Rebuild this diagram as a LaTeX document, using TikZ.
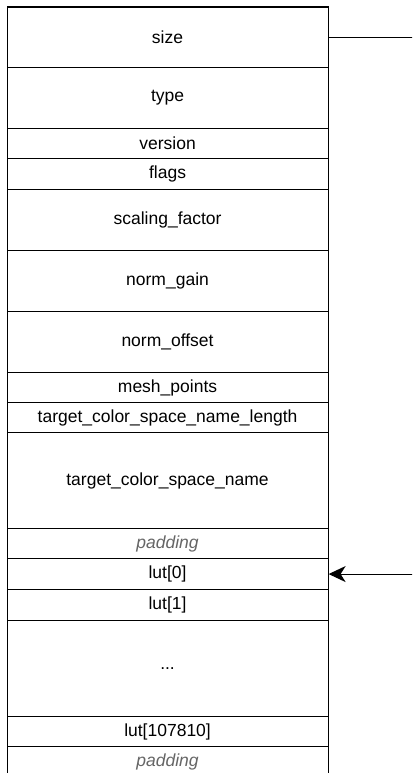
\documentclass[tikz,border=0pt]{standalone}
\usepackage{fontspec}
\setmainfont{Liberation Sans}
\usetikzlibrary{arrows.meta}
\begin{document}
\begin{tikzpicture}[x=1pt,y=-1pt,
  field/.style={draw=black,line width=1.1pt,rectangle,minimum width=321pt,inner sep=0pt,anchor=north west,
    font=\fontsize{17.5}{20}\selectfont,text=black},
  pad/.style={field,text=black!60,font=\fontsize{17.5}{20}\selectfont\itshape},
  conn/.style={line width=1.1pt,draw=black}]
\clip (0,0) rectangle (412,773);
\fill[white] (0,0) rectangle (412,773);
\node[field,minimum height=60.5pt] (size) at (6.5,6.5) {size};
\node[field,minimum height=61pt] (type) at (6.5,67) {type};
\node[field,minimum height=30pt] (version) at (6.5,128) {version};
\node[field,minimum height=31pt] (flags) at (6.5,158) {flags};
\node[field,minimum height=61pt] (scaling) at (6.5,189) {scaling\_factor};
\node[field,minimum height=61pt] (gain) at (6.5,250) {norm\_gain};
\node[field,minimum height=61pt] (offset) at (6.5,311) {norm\_offset};
\node[field,minimum height=30pt] (mesh) at (6.5,372) {mesh\_points};
\node[field,minimum height=30pt] (tlen) at (6.5,402) {target\_color\_space\_name\_length};
\node[field,minimum height=96pt] (tname) at (6.5,432) {target\_color\_space\_name};
\node[pad,minimum height=30pt] (pad1) at (6.5,528) {padding};
\node[field,minimum height=31pt] (lut0) at (6.5,558) {lut[0]};
\node[field,minimum height=31pt] (lut1) at (6.5,589) {lut[1]};
\node[field,minimum height=96pt] (dots) at (6.5,620) {...};
\node[field,minimum height=30pt] (lutn) at (6.5,716) {lut[107810]};
\node[pad,minimum height=31pt] (pad2) at (6.5,746) {padding};
\path (size.east) ++(85,0) coordinate (sizeEnd);
\path (lut0.east) ++(85,0) coordinate (lutStart);
\draw[conn] (size.east) -- (sizeEnd);
\draw[conn,-{Stealth[length=17pt,width=16pt,inset=5pt]}] (lutStart) -- (lut0.east);
\end{tikzpicture}
\end{document}
